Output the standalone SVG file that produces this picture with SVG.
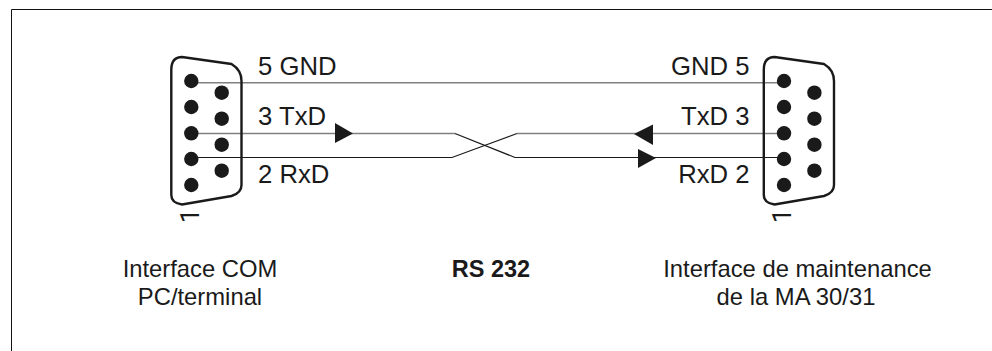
<svg xmlns="http://www.w3.org/2000/svg" width="992" height="351" viewBox="0 0 992 351">
<style>
text{font-family:"Liberation Sans",Arial,sans-serif;fill:#1a1a1a}
.l{font-size:25.700px}
.c{font-size:23.800px}
.b{font-size:23.500px;font-weight:bold}
.m{text-anchor:middle}.e{text-anchor:end}
.n{font-family:Roboto,"Liberation Sans",sans-serif;font-size:25px}
.shell{fill:none;stroke:#1a1a1a;stroke-width:2.400;stroke-linejoin:round}
.pin{fill:#1a1a1a}
.g{fill:none;stroke:#808080;stroke-width:1.600}
.d{fill:none;stroke:#1a1a1a;stroke-width:1.200}
.ah{fill:#1a1a1a}
</style>
<defs>
<g id="pins">
<circle class="pin" cx="0" cy="0" r="7.200"/><circle class="pin" cx="0" cy="26" r="7.200"/><circle class="pin" cx="0" cy="52.300" r="7.200"/><circle class="pin" cx="0" cy="78" r="7.200"/><circle class="pin" cx="0" cy="104" r="7.200"/>
<circle class="pin" cx="30.400" cy="11.700" r="7.200"/><circle class="pin" cx="30.400" cy="37.700" r="7.200"/><circle class="pin" cx="30.400" cy="63.700" r="7.200"/><circle class="pin" cx="30.400" cy="89.700" r="7.200"/>
</g>
<path id="shell" class="shell" d="M0.300 70Q0.300 57 11 57L60.500 64Q70.500 70 70.500 81L70.500 185Q70.500 193 60.500 196L11 204.500Q0.300 203 0.300 195Z"/>
</defs>
<path id="frame" d="M992 9.500H11.500V351" fill="none" stroke="#111" stroke-width="1"/>
<g id="connectors">
<path class="g" d="M191 82.700H784"/>
<path class="g" d="M191 133.500H455"/>
<path class="g" d="M517 133.500H784"/>
<path class="d" d="M191 157.500H452L517 133.500"/>
<path class="d" d="M455 133.500L515 157.500H784"/>
<path class="ah" d="M335 123L353 133.500L335 143Z"/>
<path class="ah" d="M653 124.500L634 134L653 145Z"/>
<path class="ah" d="M638 149L656 158L638 168Z"/>
</g>
<g id="com-connector">
<use href="#shell" x="171"/><use href="#pins" x="191.300" y="81"/>
<text class="l" x="258" y="75">5 GND</text><text class="l" x="258" y="125">3 TxD</text><text class="l" x="258" y="182.500">2 RxD</text>
<text class="n" transform="translate(199,223) rotate(-90)">1</text>
<text class="c m" x="200" y="277">Interface COM</text><text class="c m" x="200" y="305">PC/terminal</text>
</g>
<g id="ma-connector">
<use href="#shell" x="763.500"/><use href="#pins" x="784" y="81"/>
<text class="l e" x="749.500" y="75">GND 5</text><text class="l e" x="749.500" y="125">TxD 3</text><text class="l e" x="749.500" y="182.500">RxD 2</text>
<text class="n" transform="translate(791,223) rotate(-90)">1</text>
<text class="c m" x="797.500" y="277">Interface de maintenance</text><text class="c m" x="796" y="305">de la MA 30/31</text>
</g>
<g id="rs232"><text class="b m" x="491" y="277">RS 232</text></g>
</svg>
